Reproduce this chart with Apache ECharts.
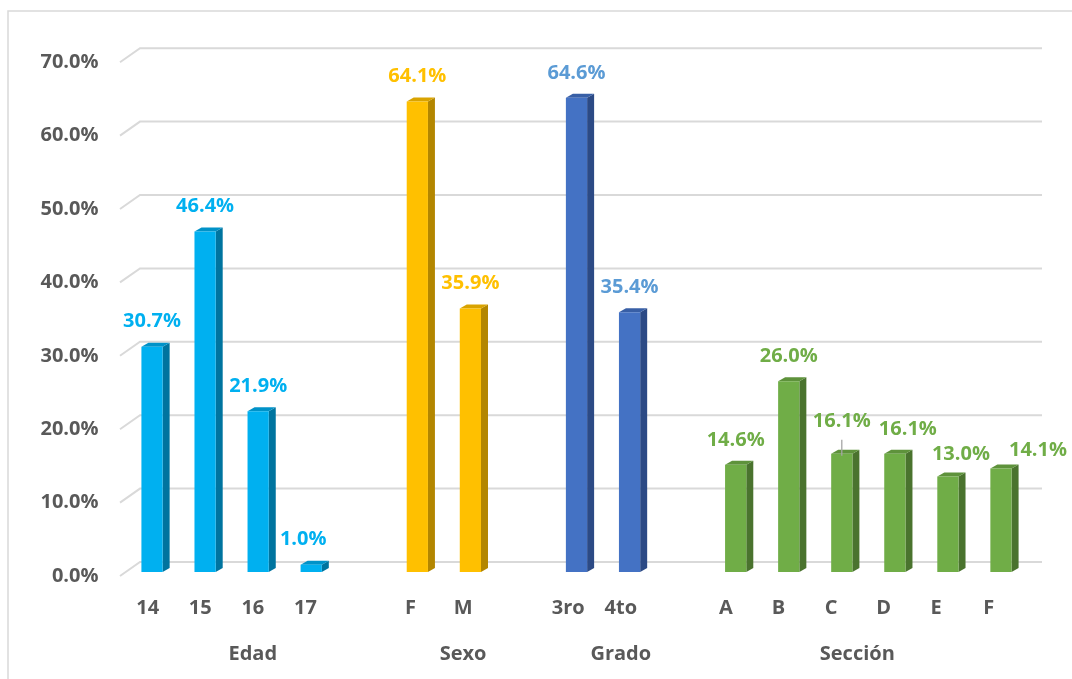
<!DOCTYPE html>
<html><head><meta charset="utf-8">
<script src="https://cdn.jsdelivr.net/npm/echarts@6/dist/echarts.min.js"></script>
<style>html,body{margin:0;padding:0;background:#fff}#c{width:1072px;height:679px}</style>
</head><body><div id="c"></div>
<script>
// ---- data ----
const groupNames = ['Edad', 'Sexo', 'Grado', 'Sección'];
const edadCats = ['14', '15', '16', '17'];
const edadVals = [30.7, 46.4, 21.9, 1.0];
const sexoCats = ['F', 'M'];
const sexoVals = [64.1, 35.9];
const gradoCats = ['3ro', '4to'];
const gradoVals = [64.6, 35.4];
const seccionCats = ['A', 'B', 'C', 'D', 'E', 'F'];
const seccionVals = [14.6, 26.0, 16.1, 16.1, 13.0, 14.1];
const yTicks = [0, 10, 20, 30, 40, 50, 60, 70];

// ---- styling ----
const groupStyles = [
  {front: '#00B0F0', side: '#00749F', top: '#0092C8', label: '#00B0F0'},
  {front: '#FFC000', side: '#B38600', top: '#D9A300', label: '#FFC000'},
  {front: '#4472C4', side: '#2C4A85', top: '#385FA6', label: '#5B9BD5'},
  {front: '#70AD47', side: '#4A732E', top: '#5E923B', label: '#70AD47'}
];
const FONT = '"Open Sans", "Noto Sans", sans-serif';
const GRAY = '#595959';

// build combined categories (blank slot after each group, except last)
const groups = [[edadCats, edadVals], [sexoCats, sexoVals], [gradoCats, gradoVals], [seccionCats, seccionVals]];
const categories = [];
const barData = [];
const groupRanges = [];
groups.forEach(([cats, vals], gi) => {
  const start = categories.length;
  cats.forEach((c, i) => {
    barData.push([categories.length, vals[i], gi, i]);
    categories.push(c);
  });
  if (gi < groups.length - 1) categories.push('');
  groupRanges.push([start, categories.length - 1]);
});

// per-label manual shifts (dx, dy, leader) keyed by "group-index"
const labelShift = {'0-3': [-8, 0], '3-2': [0, -8, true], '3-3': [13, 0], '3-4': [13, 3], '3-5': [37, 7]};

function renderBar(params, api) {
  const x = api.value(0), v = api.value(1), g = api.value(2), idx = api.value(3);
  const st = groupStyles[g];
  const top = api.coord([x, v]);
  const bot = api.coord([x, 0]);
  const w = api.size([1, 0])[0] * 0.4;
  const l = top[0] - w / 2, r = top[0] + w / 2;
  const dx = 7, dy = 4;
  const sh = labelShift[g + '-' + idx] || [0, 0];
  const children = [
    {type: 'polygon', shape: {points: [[r, top[1]], [r + dx, top[1] - dy], [r + dx, bot[1] - dy], [r, bot[1]]]}, style: {fill: st.side}},
    {type: 'polygon', shape: {points: [[l, top[1]], [l + dx, top[1] - dy], [r + dx, top[1] - dy], [r, top[1]]]}, style: {fill: st.top}},
    {type: 'rect', shape: {x: l, y: top[1], width: w, height: bot[1] - top[1]}, style: {fill: st.front}},
    {type: 'text', x: top[0] + sh[0], y: top[1] - 25 + sh[1],
      style: {text: v.toFixed(1) + '%', fill: st.label, fontSize: 20, fontWeight: 'bold', fontFamily: FONT, align: 'center', verticalAlign: 'middle'}}
  ];
  if (sh[2]) {
    children.push({type: 'line', shape: {x1: top[0], y1: top[1] - 14, x2: top[0], y2: top[1] + 2}, style: {stroke: '#a6a6a6', lineWidth: 1.3}});
  }
  return {type: 'group', children};
}

function renderGrid(params, api) {
  const v = api.value(1);
  const y = api.coord([0, v])[1];
  const cs = params.coordSys;
  return {type: 'group', children: [
    {type: 'polyline', shape: {points: [[cs.x - 5.5, y + 4], [cs.x + 14.5, y - 10], [cs.x + cs.width + 14.5, y - 10]]},
      style: {stroke: '#D9D9D9', lineWidth: 2, fill: null}},
    {type: 'text', x: cs.x - 27, y: y + 4,
      style: {text: v.toFixed(1) + '%', fill: GRAY, fontSize: 20, fontWeight: 'bold', fontFamily: FONT, align: 'right', verticalAlign: 'middle'}}
  ]};
}

const chart = echarts.init(document.getElementById('c'), null, {renderer: 'canvas'});
const option = {
  animation: false,
  grid: [
    {left: 125.5, right: 44.5, top: 58.2, bottom: 107},
    {left: 121.4, right: 57, top: 500, bottom: 99}
  ],
  xAxis: [
    {type: 'category', data: categories, gridIndex: 0, axisLine: {show: false}, axisTick: {show: false}, axisLabel: {show: false}, splitLine: {show: false}},
    {type: 'category', data: categories, gridIndex: 1, axisLine: {show: false}, axisTick: {show: false},
      axisLabel: {interval: 0, margin: 28, verticalAlign: 'middle', color: GRAY, fontSize: 20, fontWeight: 'bold', fontFamily: FONT}}
  ],
  yAxis: [
    {type: 'value', gridIndex: 0, min: 0, max: 70, interval: 10, splitLine: {show: false}, axisLine: {show: false}, axisTick: {show: false},
      axisLabel: {show: false}},
    {type: 'value', gridIndex: 1, show: false}
  ],
  series: [
    {type: 'custom', xAxisIndex: 0, yAxisIndex: 0, renderItem: renderGrid, data: yTicks.map(v => [0, v]), z: 1, silent: true},
    {type: 'custom', xAxisIndex: 0, yAxisIndex: 0, renderItem: renderBar, data: barData, z: 5, encode: {x: 0, y: 1}}
  ]
};
chart.setOption(option);

// group labels centred under each group (including trailing blank slot)
const graphics = [{type: 'rect', shape: {x: 8, y: 11, width: 1100, height: 700}, style: {fill: null, stroke: '#D9D9D9', lineWidth: 1.5}, silent: true}];
groupRanges.forEach((rg, gi) => {
  const x0 = chart.convertToPixel({xAxisIndex: 1}, rg[0]);
  const x1 = chart.convertToPixel({xAxisIndex: 1}, rg[1]);
  graphics.push({type: 'text', x: (x0 + x1) / 2, y: 654,
    style: {text: groupNames[gi], fill: GRAY, fontSize: 20, fontWeight: 'bold', fontFamily: FONT, align: 'center', verticalAlign: 'middle'}});
});
chart.setOption({graphic: graphics});
</script>
</body></html>
